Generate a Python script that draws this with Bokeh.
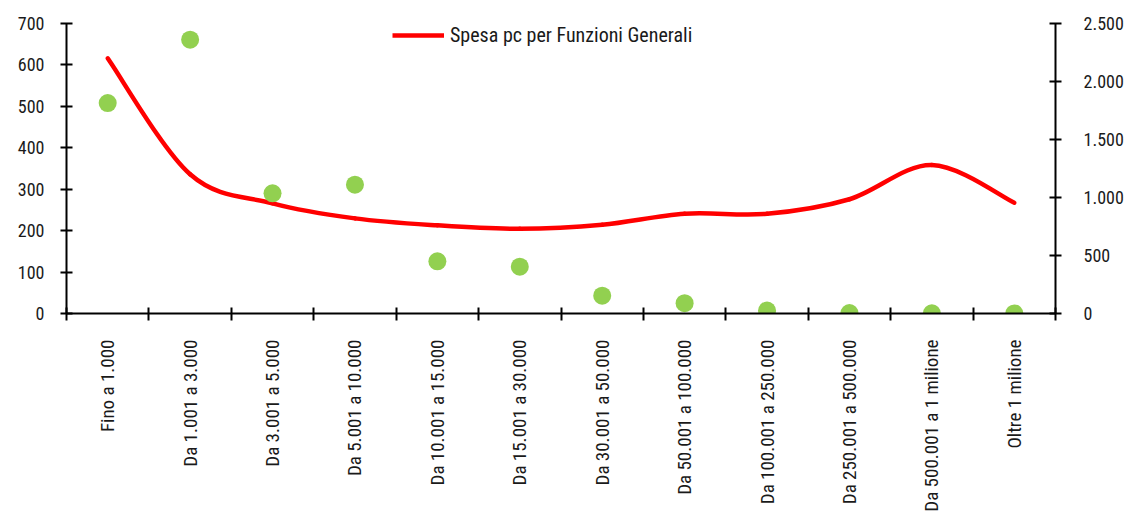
import math
from bokeh.plotting import figure
from bokeh.models import (Range1d, LinearAxis, FixedTicker, Legend, LegendItem,
                          ColumnDataSource)
from bokeh.embed import file_html
from bokeh.resources import INLINE

categories = ["Fino a 1.000", "Da 1.001 a 3.000", "Da 3.001 a 5.000",
              "Da 5.001 a 10.000", "Da 10.001 a 15.000", "Da 15.001 a 30.000",
              "Da 30.001 a 50.000", "Da 50.001 a 100.000", "Da 100.001 a 250.000",
              "Da 250.001 a 500.000", "Da 500.001 a 1 milione", "Oltre 1 milione"]
green_values = [508, 661, 290, 311, 126, 113, 43, 25, 7, 1, 0.5, 0.3]
spesa_pc = [2200, 1200, 950, 820, 760, 730, 765, 860, 860, 985, 1280, 955]
left_ticks = [0, 100, 200, 300, 400, 500, 600, 700]
right_ticks = [0, 500, 1000, 1500, 2000, 2500]
right_labels = ["0", "500", "1.000", "1.500", "2.000", "2.500"]
legend_label = "Spesa pc per Funzioni Generali"

FONT = "'Liberation Sans Narrow', 'Arial Narrow', 'Roboto Condensed', sans-serif"
FS = "18px"

n = len(categories)
xs = [i + 0.5 for i in range(n)]

p = figure(frame_width=989, frame_height=290, output_backend="svg", toolbar_location=None,
           x_range=Range1d(0, n), y_range=Range1d(0, 700),
           min_border_left=66, min_border_right=0, min_border_top=23,
           min_border_bottom=0)
p.extra_y_ranges = {"right": Range1d(0, 2500)}
p.outline_line_color = None
p.xgrid.visible = False
p.ygrid.visible = False
p.background_fill_color = "white"
p.border_fill_color = "white"

# x axis
xa = p.xaxis[0]
xa.ticker = FixedTicker(ticks=xs, minor_ticks=list(range(n + 1)))
xa.major_label_overrides = {x: c for x, c in zip(xs, categories)}
xa.major_label_orientation = math.pi / 2
xa.major_tick_in = 0
xa.major_tick_out = 0
xa.minor_tick_in = 6
xa.minor_tick_out = 7
xa.minor_tick_line_width = 2
xa.minor_tick_line_color = "black"
xa.axis_line_width = 2
xa.axis_line_color = "black"
xa.major_label_standoff = 19
xa.major_label_text_font = FONT
xa.major_label_text_font_size = "19px"
xa.major_label_text_color = "#1a1a1a"

# left axis
ya = p.yaxis[0]
ya.ticker = FixedTicker(ticks=left_ticks)
ya.major_tick_in = 6
ya.major_tick_out = 6
ya.minor_tick_in = 0
ya.minor_tick_out = 0
ya.major_tick_line_width = 2
ya.axis_line_width = 2
ya.axis_line_color = "black"
ya.major_label_standoff = 16
ya.major_label_text_font = FONT
ya.major_label_text_font_size = FS
ya.major_label_text_color = "#1a1a1a"

# right axis
ra = LinearAxis(y_range_name="right", ticker=FixedTicker(ticks=right_ticks))
ra.major_label_overrides = {t: l for t, l in zip(right_ticks, right_labels)}
ra.major_tick_in = 6
ra.major_tick_out = 6
ra.minor_tick_in = 0
ra.minor_tick_out = 0
ra.major_tick_line_width = 2
ra.axis_line_width = 2
ra.axis_line_color = "black"
ra.major_label_standoff = 22
ra.major_label_text_font = FONT
ra.major_label_text_font_size = FS
ra.major_label_text_color = "#1a1a1a"
p.add_layout(ra, "right")

# smooth line (Catmull-Rom converted to cubic Bezier segments)
x0, y0, x1, y1, cx0, cy0, cx1, cy1 = [], [], [], [], [], [], [], []
for i in range(n - 1):
    pm = (xs[max(i - 1, 0)], spesa_pc[max(i - 1, 0)])
    p0 = (xs[i], spesa_pc[i])
    p1 = (xs[i + 1], spesa_pc[i + 1])
    p2 = (xs[min(i + 2, n - 1)], spesa_pc[min(i + 2, n - 1)])
    x0.append(p0[0]); y0.append(p0[1]); x1.append(p1[0]); y1.append(p1[1])
    cx0.append(p0[0] + (p1[0] - pm[0]) / 6); cy0.append(p0[1] + (p1[1] - pm[1]) / 6)
    cx1.append(p1[0] - (p2[0] - p0[0]) / 6); cy1.append(p1[1] - (p2[1] - p0[1]) / 6)
bsrc = ColumnDataSource(dict(x0=x0, y0=y0, x1=x1, y1=y1, cx0=cx0, cy0=cy0, cx1=cx1, cy1=cy1))
p.bezier(x0="x0", y0="y0", x1="x1", y1="y1", cx0="cx0", cy0="cy0", cx1="cx1", cy1="cy1",
         source=bsrc, line_color="#FF0000", line_width=4.5, line_cap="round",
         y_range_name="right")

# dots
p.scatter(xs, green_values, size=18, fill_color="#92D050", line_color=None)

# legend
dummy = p.line(x=[0.5, 1.5], y=[-1000, -1000], line_color="#FF0000", line_width=4.5,
               y_range_name="right")
legend = Legend(items=[LegendItem(label=legend_label, renderers=[dummy])],
                location=(326, 266), orientation="horizontal",
                border_line_alpha=0, background_fill_alpha=0,
                padding=0, margin=0, glyph_width=52, glyph_height=20,
                label_standoff=6, label_text_font=FONT, label_text_font_size="20px",
                label_text_color="#1a1a1a")
p.add_layout(legend, "center")

open("out.html", "w").write(file_html(p, INLINE))
